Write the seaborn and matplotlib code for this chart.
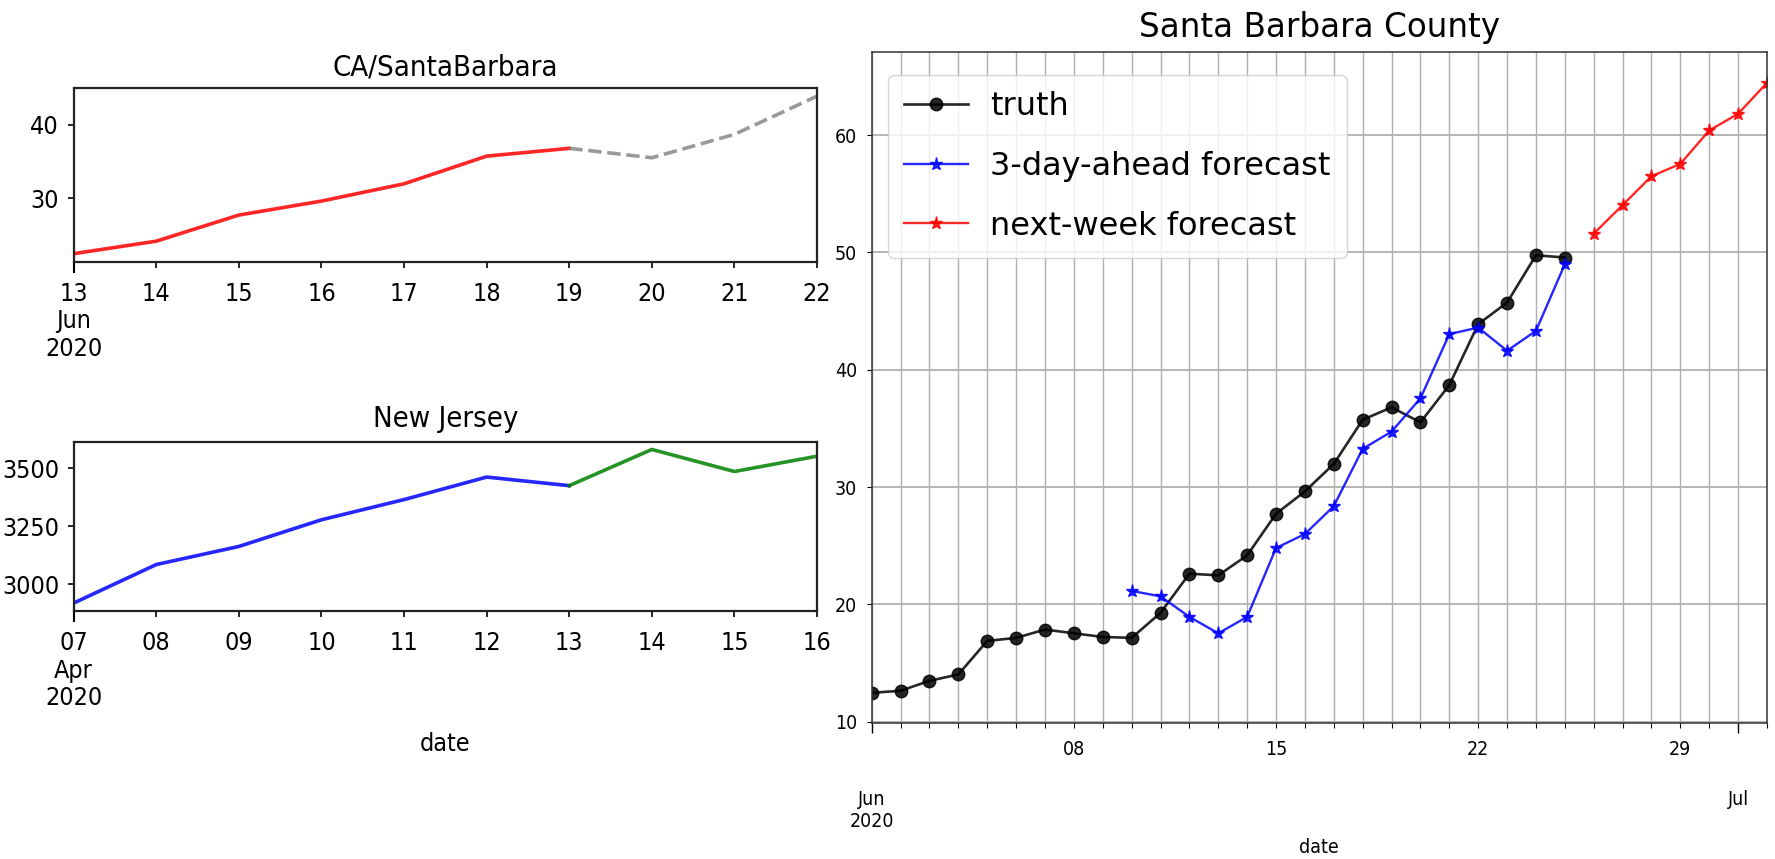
import matplotlib
matplotlib.use("Agg")
import matplotlib.pyplot as plt
import matplotlib.dates as mdates
import numpy as np
import pandas as pd
import seaborn as sns

# ---- data -------------------------------------------------------------
# Santa Barbara County: observed daily values
truth_dates = pd.date_range("2020-06-01", "2020-06-25", freq="D")
truth = [12.47, 12.64, 13.49, 14.03, 16.89, 17.15, 17.86, 17.54, 17.23, 17.15,
         19.28, 22.62, 22.48, 24.18, 27.73, 29.63, 31.98, 35.74, 36.80, 35.52,
         38.70, 43.89, 45.73, 49.76, 49.57]

# 3-day-ahead forecast
ahead_dates = pd.date_range("2020-06-10", "2020-06-25", freq="D")
ahead = [21.15, 20.69, 18.94, 17.54, 18.94, 24.81, 26.00, 28.38, 33.26, 34.73,
         37.57, 43.04, 43.60, 41.62, 43.32, 49.00]

# next-week forecast
week_dates = pd.date_range("2020-06-26", "2020-07-02", freq="D")
week = [51.60, 54.04, 56.50, 57.55, 60.40, 61.82, 64.46]

# CA/SantaBarbara window (solid through the split day, dashed after)
ca_start, ca_end, ca_split = "2020-06-13", "2020-06-22", "2020-06-19"

# New Jersey
nj_dates = pd.date_range("2020-04-07", "2020-04-16", freq="D")
nj = [2919, 3085, 3163, 3278, 3365, 3462, 3425, 3581, 3486, 3552]
nj_split = "2020-04-13"

ca_yticks = [30, 40]
nj_yticks = [3000, 3250, 3500]
sb_yticks = [10, 20, 30, 40, 50, 60]
sb_labelled_days = [8, 15, 22, 29]

# ---- style ------------------------------------------------------------
plt.rcParams["font.family"] = ["DejaVu Sans"]
plt.rcParams["font.stretch"] = "condensed"
NARROW = ["DejaVu Sans Condensed", "DejaVu Sans"]

fig = plt.figure(figsize=(17.75, 8.59), dpi=100)
ax_ca = fig.add_axes([0.0415, 0.6955, 0.4188, 0.2017])
ax_nj = fig.add_axes([0.0415, 0.2890, 0.4188, 0.1967])
ax_sb = fig.add_axes([0.4911, 0.1580, 0.5044, 0.7811])

# ---- left: CA/SantaBarbara -------------------------------------------
ca = pd.Series(truth, index=truth_dates).loc[ca_start:ca_end]
ca_obs = ca.loc[:ca_split]
ca_fut = ca.loc[ca_split:]
sns.lineplot(x=ca_obs.index, y=ca_obs.values, ax=ax_ca, color="red",
             lw=2.6, alpha=0.85)
sns.lineplot(x=ca_fut.index, y=ca_fut.values, ax=ax_ca, color="grey",
             lw=2.6, alpha=0.8, linestyle="--")
ax_ca.set_xlim(ca.index[0], ca.index[-1])
ax_ca.set_yticks(ca_yticks)

# ---- left: New Jersey -------------------------------------------------
nj_s = pd.Series(nj, index=nj_dates)
nj_obs = nj_s.loc[:nj_split]
nj_fut = nj_s.loc[nj_split:]
sns.lineplot(x=nj_obs.index, y=nj_obs.values, ax=ax_nj, color="blue",
             lw=2.6, alpha=0.85)
sns.lineplot(x=nj_fut.index, y=nj_fut.values, ax=ax_nj, color="green",
             lw=2.6, alpha=0.85)
ax_nj.set_xlim(nj_dates[0], nj_dates[-1])
ax_nj.set_yticks(nj_yticks)


def daily_axis(ax, dates):
    first = dates[0]
    ax.set_xticks([mdates.date2num(first)],
                  labels=[f"{first:%d}\n{first:%b}\n{first:%Y}"])
    rest = dates[1:]
    ax.set_xticks(mdates.date2num(rest), labels=[f"{d:%d}" for d in rest],
                  minor=True)
    ax.tick_params(axis="x", which="major", length=8, width=1.5, pad=6.4,
                   labelsize=18, labelfontfamily=NARROW)
    ax.tick_params(axis="x", which="minor", length=4.6, width=1.2, pad=9.8,
                   labelsize=18, labelfontfamily=NARROW)
    ax.tick_params(axis="y", which="major", length=4, width=1.2, pad=6.5,
                   labelsize=18, labelfontfamily=NARROW)
    for sp in ax.spines.values():
        sp.set_linewidth(1.6)
        sp.set_color("#222222")
    ax.set_ylabel("")


daily_axis(ax_ca, ca.index)
daily_axis(ax_nj, nj_dates)
ax_ca.set_xlabel("")
ax_ca.set_title("CA/SantaBarbara", fontsize=21, family=NARROW, pad=9)
ax_nj.set_title("New Jersey", fontsize=21, family=NARROW, pad=11)
ax_nj.set_xlabel("date", fontsize=18, family=NARROW)
ax_nj.xaxis.set_label_coords(0.5, -0.72)

# ---- right: Santa Barbara County -------------------------------------
sns.lineplot(x=truth_dates, y=truth, ax=ax_sb, color="black", lw=1.9,
             alpha=0.85, marker="o", markersize=9, markeredgecolor="black",
             markeredgewidth=1, label="truth")
sns.lineplot(x=ahead_dates, y=ahead, ax=ax_sb, color="blue", lw=1.7,
             alpha=0.85, marker="*", markersize=9.5, markeredgecolor="blue",
             markeredgewidth=1, label="3-day-ahead forecast")
sns.lineplot(x=week_dates, y=week, ax=ax_sb, color="red", lw=1.7,
             alpha=0.85, marker="*", markersize=9.5, markeredgecolor="red",
             markeredgewidth=1, label="next-week forecast")

sb_start, sb_end = truth_dates[0], week_dates[-1]
ax_sb.set_xlim(sb_start, sb_end)
ax_sb.set_yticks(sb_yticks)

all_days = pd.date_range(sb_start, sb_end, freq="D")
month_starts = all_days[all_days.day == 1]
other_days = all_days[all_days.day != 1]
ax_sb.set_xticks(mdates.date2num(month_starts),
                 labels=[f"{d:%b}\n{d:%Y}" if i == 0 else f"{d:%b}"
                         for i, d in enumerate(month_starts)])
ax_sb.set_xticks(mdates.date2num(other_days),
                 labels=[f"{d:%d}" if d.day in sb_labelled_days else ""
                         for d in other_days], minor=True)
ax_sb.tick_params(axis="x", which="major", length=7, width=1.0, pad=41,
                  labelsize=14, labelfontfamily=NARROW)
ax_sb.tick_params(axis="x", which="minor", length=3.5, width=0.8, pad=8.5,
                  labelsize=14, labelfontfamily=NARROW)
ax_sb.tick_params(axis="y", which="major", length=3.5, width=0.8, pad=7,
                  labelsize=14, labelfontfamily=NARROW)
ax_sb.grid(True, which="both", axis="x", color="#b0b0b0", lw=1.0)
ax_sb.grid(True, which="major", axis="y", color="#b0b0b0", lw=1.3)
ax_sb.set_axisbelow(True)
for sp in ax_sb.spines.values():
    sp.set_linewidth(1.1)
    sp.set_color("#333333")

ax_sb.set_title("Santa Barbara County", fontsize=23.5, pad=11,
                fontstretch="normal")
ax_sb.set_ylabel("")
ax_sb.set_xlabel("date", fontsize=14, family=NARROW)
ax_sb.xaxis.set_label_coords(0.5, -0.171)
ax_sb.legend(loc="upper left", bbox_to_anchor=(0.0182, 0.966),
             borderaxespad=0, prop={"size": 23, "stretch": "normal"},
             framealpha=0.8, edgecolor="#cccccc", handlelength=2.0,
             labelspacing=0.9, borderpad=0.5, handletextpad=0.7)

fig.savefig("out.png", dpi=100)
